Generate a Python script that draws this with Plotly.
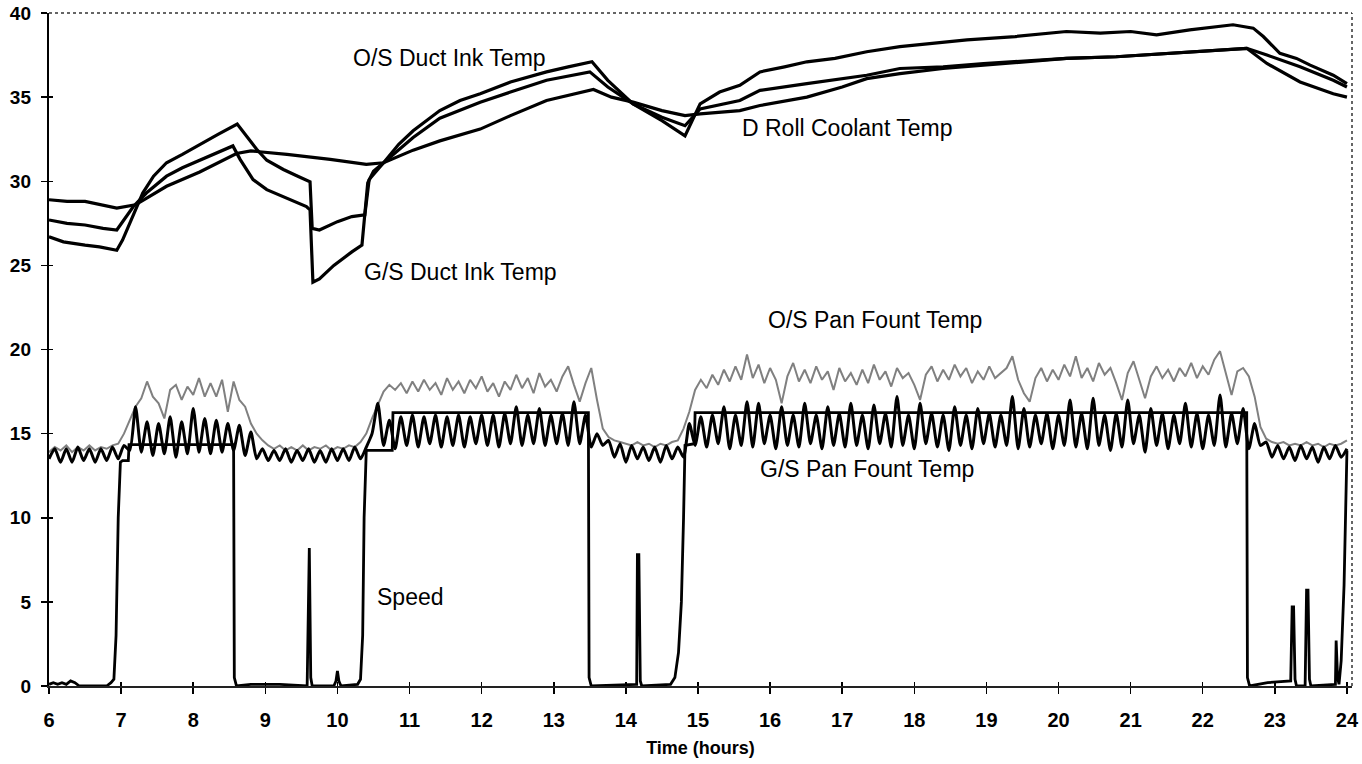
import plotly.graph_objects as go

# ---------------- data ----------------
x_ticks = [6, 7, 8, 9, 10, 11, 12, 13, 14, 15, 16, 17, 18, 19, 20, 21, 22, 23, 24]
y_ticks = [0, 5, 10, 15, 20, 25, 30, 35, 40]

# O/S Duct Ink Temp
os_duct_t = [6.00, 6.20, 6.50, 6.70, 6.94, 7.02, 7.20, 7.30, 7.45, 7.63, 7.85, 8.09, 8.35, 8.61, 8.88,
             9.02, 9.25, 9.45, 9.62, 9.65, 9.75, 10.00, 10.20, 10.38, 10.44, 10.64,
             10.85, 11.05, 11.42, 11.70, 11.98, 12.40, 12.90, 13.20, 13.53, 13.75, 14.10, 14.50, 14.82, 15.03,
             15.30, 15.58, 15.86, 16.20, 16.51, 16.90, 17.34, 17.80, 18.30, 18.73, 19.40, 20.11, 20.58, 21.00, 21.36, 21.82,
             22.42, 22.70, 22.84, 23.07, 23.30, 23.49, 23.81, 24.00]
os_duct_v = [26.7, 26.4, 26.2, 26.1, 25.9, 26.5, 28.3, 29.3, 30.3, 31.1, 31.6, 32.2, 32.8, 33.4, 31.9,
             31.25, 30.7, 30.3, 29.97, 27.2, 27.1, 27.6, 27.9, 28.0, 30.1, 31.1,
             32.2, 33.0, 34.2, 34.8, 35.2, 35.9, 36.5, 36.8, 37.1, 36.0, 34.6, 33.6, 32.7, 34.6,
             35.3, 35.7, 36.5, 36.8, 37.1, 37.3, 37.7, 38.0, 38.2, 38.4, 38.6, 38.9, 38.8, 38.9, 38.7, 39.0,
             39.3, 39.1, 38.6, 37.6, 37.3, 36.9, 36.3, 35.8]

# G/S Duct Ink Temp
gs_duct_t = [6.00, 6.25, 6.50, 6.75, 6.94, 7.17, 7.35, 7.63, 7.85, 8.09, 8.30, 8.55, 8.65, 8.83,
             9.02, 9.25, 9.57, 9.62, 9.66, 9.75, 9.95, 10.20, 10.34, 10.42,
             10.50, 10.64, 10.85, 11.05, 11.42, 11.98, 12.40, 12.90, 13.50, 13.75, 14.10, 14.50,
             14.82, 15.03, 15.58, 15.86, 16.51, 17.34, 17.80, 18.40, 18.96, 20.11, 20.80, 21.50,
             22.61, 22.89, 23.10, 23.35, 23.81, 24.00]
gs_duct_v = [27.7, 27.5, 27.4, 27.2, 27.1, 28.5, 29.3, 30.3, 30.8, 31.25, 31.6, 32.1, 31.3, 30.1,
             29.5, 29.1, 28.5, 28.3, 24.0, 24.2, 25.0, 25.8, 26.2, 29.9,
             30.6, 31.1, 31.9, 32.6, 33.75, 34.7, 35.3, 36.0, 36.5, 35.6, 34.6, 33.8,
             33.3, 34.3, 34.8, 35.4, 35.8, 36.3, 36.7, 36.8, 37.0, 37.3, 37.4, 37.6,
             37.9, 37.0, 36.5, 35.9, 35.2, 35.0]

# D Roll Coolant Temp
droll_t = [6.00, 6.25, 6.50, 6.75, 6.94, 7.20, 7.35, 7.63, 8.09, 8.35, 8.60, 8.80, 9.30,
           9.90, 10.40, 10.64, 11.05, 11.42, 11.98, 12.40, 12.90, 13.55, 13.80, 14.10,
           14.50, 14.82, 15.03, 15.58, 15.86, 16.51, 17.00, 17.34, 17.80, 18.40, 18.96, 20.11,
           20.80, 21.50, 22.61, 22.89, 23.10, 23.35, 23.81, 24.00]
droll_v = [28.9, 28.8, 28.8, 28.6, 28.4, 28.6, 29.0, 29.7, 30.55, 31.1, 31.65, 31.8, 31.6,
           31.3, 31.0, 31.1, 31.85, 32.4, 33.1, 33.9, 34.8, 35.45, 35.0, 34.7,
           34.2, 33.9, 34.0, 34.2, 34.5, 35.0, 35.6, 36.1, 36.4, 36.7, 36.9, 37.3,
           37.4, 37.6, 37.9, 37.5, 37.2, 36.8, 36.0, 35.6]

# Pan fount temps, logged every 0.08 h from 06:00 to 24:00 (226 samples)
sample_step_h = 0.08
gs_pan = (
    # 6.00 - 6.96 idle
    [13.5, 14.1, 13.3, 14.1, 13.3, 14.2, 13.4, 14.1, 13.3, 14.1, 13.4, 14.2, 13.5]
    # 7.04 - 8.88 running
    + [14.3, 14.0, 16.6, 13.9, 15.7, 13.7, 15.6, 13.8, 16.0, 13.6, 15.7, 13.8,
       16.5, 13.9, 15.9, 13.8, 15.8, 13.9, 15.6, 14.0, 15.5, 13.7, 15.1, 13.5]
    # 8.96 - 10.32 idle
    + [14.1, 13.4, 14.0, 13.4, 14.1, 13.3, 14.0, 13.4, 14.1, 13.3, 14.0, 13.3,
       14.1, 13.4, 14.1, 13.4, 14.2, 13.5]
    # 10.40 - 13.52 running
    + [14.2, 15.0, 16.8, 14.3, 15.8, 14.1, 16.0, 14.3, 16.1, 14.2,
       16.0, 14.4, 16.1, 14.2, 16.0, 14.3, 16.1, 14.2, 16.0, 14.4,
       16.1, 14.3, 16.1, 14.2, 16.2, 14.4, 16.6, 14.3, 16.1, 14.4,
       16.5, 14.3, 16.1, 14.4, 16.2, 14.3, 16.9, 14.4, 16.1, 14.2]
    # 13.60 - 14.80 idle
    + [15.0, 14.3, 14.6, 13.6, 14.4, 13.3, 14.3, 13.5, 14.2, 13.4, 14.2, 13.3,
       14.3, 13.5, 14.2, 13.6]
    # 14.88 - 22.64 running
    + [15.6, 14.3, 16.0, 14.2, 16.1, 14.4, 16.6, 14.1, 16.1, 14.3,
       16.9, 14.2, 16.8, 14.4, 16.1, 14.1, 16.6, 14.3, 16.1, 14.2,
       16.8, 14.4, 16.1, 14.1, 16.6, 14.3, 16.2, 14.2, 16.8, 14.3,
       16.1, 14.1, 16.7, 14.4, 16.2, 14.2, 17.2, 14.3, 16.1, 14.1,
       16.8, 14.4, 16.2, 14.2, 16.1, 14.0, 16.6, 14.3, 16.1, 14.1,
       16.5, 14.4, 16.2, 14.2, 16.1, 14.3, 17.2, 14.1, 16.5, 14.2,
       16.1, 14.4, 16.2, 14.1, 16.1, 14.3, 17.0, 14.2, 16.2, 14.1,
       17.1, 14.3, 16.1, 14.0, 16.2, 14.2, 17.0, 14.4, 16.1, 13.9,
       16.5, 14.3, 16.2, 14.1, 16.1, 14.4, 16.8, 14.2, 16.2, 14.1,
       16.1, 14.3, 17.3, 14.2, 16.2, 14.4, 16.5, 14.1]
    # 22.72 - 24.00 idle
    + [15.6, 14.3, 14.5, 13.6, 14.3, 13.5, 14.2, 13.4, 14.3, 13.5, 14.2, 13.3,
       14.2, 13.5, 14.3, 13.6, 14.1]
)
os_pan = (
    [13.9, 14.2, 14.0, 14.3, 13.9, 14.2, 14.0, 14.3, 14.0, 14.2, 14.1, 14.3, 14.4]
    + [15.0, 15.8, 16.6, 17.1, 18.1, 17.2, 16.8, 15.9, 17.6, 17.9, 17.0, 17.8,
       17.3, 18.3, 17.2, 18.0, 17.2, 18.2, 16.3, 18.1, 17.0, 16.6, 15.6, 15.0]
    + [14.6, 14.3, 14.1, 14.3, 14.0, 14.2, 14.0, 14.3, 14.0, 14.2, 14.1, 14.3,
       14.0, 14.2, 14.1, 14.3, 14.2, 14.5]
    + [15.0, 15.9, 16.7, 17.5, 17.9, 17.6, 18.0, 17.4, 18.1, 17.5,
       18.2, 17.6, 18.0, 17.3, 18.3, 17.6, 18.1, 17.4, 18.2, 17.7,
       18.4, 17.5, 18.0, 17.2, 18.1, 17.6, 18.5, 17.7, 18.3, 17.4,
       18.6, 17.8, 18.2, 17.5, 18.4, 19.0, 17.9, 16.9, 18.0, 18.9]
    + [17.0, 15.3, 14.8, 14.6, 14.5, 14.4, 14.3, 14.5, 14.3, 14.4, 14.2, 14.4,
       14.3, 14.5, 14.6, 15.3]
    + [16.3, 17.6, 18.2, 17.7, 18.5, 17.9, 18.8, 18.1, 19.0, 18.2,
       19.7, 18.3, 19.1, 18.0, 18.9, 18.2, 16.8, 18.4, 19.2, 18.1,
       18.8, 18.0, 19.0, 18.2, 18.7, 17.6, 18.9, 18.1, 18.6, 17.9,
       18.8, 18.0, 19.1, 18.2, 18.7, 17.8, 18.9, 18.3, 18.6, 17.9,
       17.0, 18.5, 19.0, 18.1, 18.8, 18.2, 19.1, 18.4, 18.9, 18.0,
       18.7, 18.2, 19.0, 18.3, 18.6, 18.9, 19.6, 18.2, 17.4, 16.9,
       18.3, 18.9, 18.1, 18.8, 18.2, 19.1, 18.4, 19.6, 18.3, 18.9,
       18.1, 19.2, 18.5, 18.9, 18.0, 17.0, 18.6, 19.3, 18.2, 17.1,
       18.4, 19.0, 18.3, 18.8, 18.1, 18.9, 18.4, 19.2, 18.3, 19.0,
       18.5, 19.4, 19.9, 18.6, 17.3, 18.7, 18.9, 18.4]
    + [17.2, 15.4, 14.7, 14.5, 14.4, 14.5, 14.3, 14.4, 14.3, 14.5, 14.3, 14.4,
       14.2, 14.4, 14.3, 14.4, 14.6]
)
pan_t = [round(6 + sample_step_h * i, 2) for i in range(len(gs_pan))]

# Speed
speed_t = [6.00, 6.06, 6.12, 6.18, 6.24, 6.30, 6.36, 6.42, 6.80, 6.86,
           6.90, 6.93, 6.96, 6.99, 7.02, 7.10, 7.11, 8.56, 8.57, 8.60,
           8.80, 9.20, 9.58, 9.60, 9.61, 9.63, 9.65, 9.95, 9.98, 10.00,
           10.02, 10.05, 10.28, 10.32, 10.35, 10.37, 10.40, 10.76, 10.77, 13.48,
           13.49, 13.52, 14.00, 14.15, 14.16, 14.18, 14.20, 14.22, 14.62, 14.68,
           14.73, 14.77, 14.80, 14.82, 14.95, 14.96, 22.61, 22.62, 22.65, 22.90,
           23.22, 23.24, 23.26, 23.28, 23.30, 23.42, 23.44, 23.46, 23.48, 23.50,
           23.84, 23.85, 23.87, 23.89, 23.92, 23.96, 24.00]
speed_v = [0.1, 0.2, 0.1, 0.2, 0.1, 0.3, 0.2, 0.0, 0.0, 0.2,
           0.4, 3.0, 10.0, 13.3, 13.4, 13.4, 14.35, 14.35, 0.5, 0.0,
           0.1, 0.1, 0.0, 8.2, 8.2, 0.5, 0.0, 0.0, 0.3, 0.9,
           0.3, 0.0, 0.1, 0.4, 3.0, 10.0, 14.0, 14.0, 16.25, 16.25,
           0.5, 0.0, 0.1, 0.1, 7.8, 7.8, 0.3, 0.0, 0.1, 0.5,
           2.0, 5.0, 10.0, 14.3, 14.4, 16.25, 16.25, 0.5, 0.0, 0.2,
           0.3, 4.7, 4.7, 0.4, 0.0, 0.0, 5.7, 5.7, 0.4, 0.0,
           0.1, 2.7, 0.5, 0.1, 1.5, 6.0, 14.0]

labels = ["O/S Duct Ink Temp", "D Roll Coolant Temp", "G/S Duct Ink Temp",
          "O/S Pan Fount Temp", "G/S Pan Fount Temp", "Speed"]
label_x = [11.56, 17.07, 11.70, 17.46, 17.35, 11.02]
label_y = [37.3, 33.15, 24.6, 21.75, 12.9, 5.29]

# ---------------- figure ----------------
FONT = "Liberation Sans, Arial, sans-serif"
fig = go.Figure()

for t, v, name in [(os_duct_t, os_duct_v, labels[0]),
                   (droll_t, droll_v, labels[1]),
                   (gs_duct_t, gs_duct_v, labels[2])]:
    fig.add_trace(go.Scatter(x=t, y=v, mode="lines", name=name,
                             line=dict(color="black", width=3.2)))

fig.add_trace(go.Scatter(x=pan_t, y=os_pan, mode="lines", name=labels[3],
                         line=dict(color="#808080", width=2)))
fig.add_trace(go.Scatter(x=pan_t, y=gs_pan, mode="lines", name=labels[4],
                         line=dict(color="black", width=3, shape="spline", smoothing=0.6)))
fig.add_trace(go.Scatter(x=speed_t, y=speed_v, mode="lines", name=labels[5],
                         line=dict(color="black", width=2.8)))
# carrier trace for the inner half of the cross-shaped tick marks
fig.add_trace(go.Scatter(x=speed_t, y=speed_v, mode="lines", xaxis="x2", yaxis="y2",
                         opacity=0, hoverinfo="skip", showlegend=False,
                         line=dict(color="black", width=0)))

for txt, ax, ay in zip(labels, label_x, label_y):
    fig.add_annotation(x=ax, y=ay, text=txt, showarrow=False,
                       xanchor="center", yanchor="middle",
                       font=dict(family=FONT, size=23, color="black"))

xr = [6, 24.07]
yr = [0, 40]
fig.update_layout(
    width=1362, height=764,
    margin=dict(l=49, r=10, t=13, b=78, autoexpand=False),
    plot_bgcolor="white", paper_bgcolor="white",
    showlegend=False,
    hovermode=False,
    xaxis=dict(range=xr, tickvals=x_ticks, ticktext=[str(v) for v in x_ticks],
               ticks="outside", ticklen=6, tickwidth=1.5, tickcolor="black",
               showline=True, linecolor="#222", linewidth=1.5, automargin=False,
               showgrid=False, zeroline=False, ticklabelstandoff=9,
               ticklabeloverflow="allow",
               tickfont=dict(family=FONT, size=20, color="black", weight="bold"),
               title=dict(text="Time (hours)", standoff=12,
                          font=dict(family=FONT, size=18, color="black", weight="bold"))),
    yaxis=dict(range=yr, tickvals=y_ticks, ticktext=[str(v) for v in y_ticks],
               ticks="outside", ticklen=6, tickwidth=1.5, tickcolor="black",
               showline=True, linecolor="black", linewidth=2.2, automargin=False,
               showgrid=False, zeroline=False, ticklabelstandoff=6,
               ticklabeloverflow="allow",
               tickfont=dict(family=FONT, size=19, color="black", weight="bold")),
    xaxis2=dict(range=xr, overlaying="x", side="bottom", tickvals=x_ticks,
                ticks="inside", ticklen=4, tickwidth=1.5, tickcolor="black", automargin=False,
                showticklabels=False, showline=False, showgrid=False, zeroline=False),
    yaxis2=dict(range=yr, overlaying="y", side="left", tickvals=y_ticks,
                ticks="inside", ticklen=4, tickwidth=1.5, tickcolor="black", automargin=False,
                showticklabels=False, showline=False, showgrid=False, zeroline=False),
    shapes=[
        dict(type="line", xref="paper", yref="paper", x0=0, x1=1, y0=1, y1=1,
             line=dict(color="#333", width=1.5, dash="dot")),
        dict(type="line", xref="paper", yref="paper", x0=1, x1=1, y0=0, y1=1,
             line=dict(color="#333", width=1.5, dash="dot")),
    ],
)

# remove the page's default 8 px body margin so the figure fills the window exactly
fig.write_html("out.html",
               config={"displayModeBar": False, "staticPlot": True},
               post_script="document.body.style.margin='0';document.body.style.overflow='hidden';")
